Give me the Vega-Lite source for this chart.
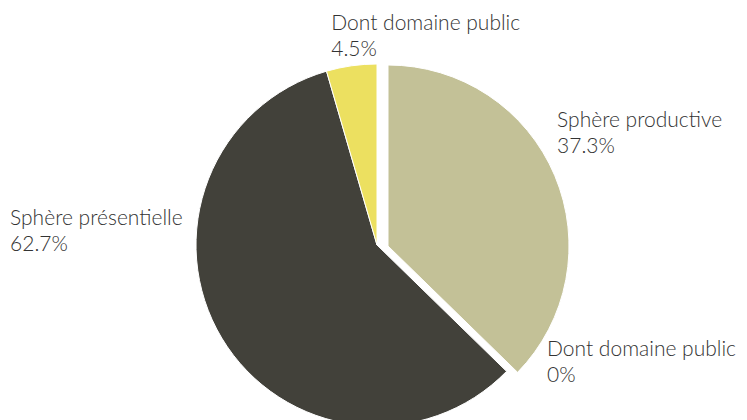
{
  "$schema": "https://vega.github.io/schema/vega-lite/v6.json",
  "width": 740,
  "height": 350,
  "autosize": {"type": "none"},
  "padding": {"left": 7, "right": 0, "top": 70, "bottom": 0},
  "background": "white",
  "view": {"stroke": null},
  "config": {"text": {"font": "Lato", "fontWeight": 300, "fontSize": 21, "fill": "#333333", "lineHeight": 26, "lineBreak": "\n", "align": "left", "baseline": "top"}},
  "data": {
    "values": [
      {"segment": "prod", "order": 1, "value": 37.3, "label": "Sphère productive\n37.3%"},
      {"segment": "dp0", "order": 2, "value": 0, "label": "Dont domaine public\n0%"},
      {"segment": "pres", "order": 3, "value": 58.2, "label": "Sphère présentielle\n62.7%"},
      {"segment": "dp45", "order": 4, "value": 4.5, "label": "Dont domaine public\n4.5%"}
    ]
  },
  "encoding": {
    "theta": {"field": "value", "type": "quantitative", "stack": true, "scale": {"domain": [0, 100]}},
    "order": {"field": "order", "type": "quantitative"},
    "color": {"field": "segment", "type": "nominal", "legend": null,
      "scale": {"domain": ["prod", "dp0", "pres", "dp45"], "range": ["#c3c197", "#c3c197", "#42413a", "#ece060"]}}
  },
  "layer": [
    {
      "mark": {"type": "arc", "outerRadius": 181, "stroke": "white", "strokeWidth": 1},
      "encoding": {"opacity": {"condition": {"test": "datum.segment === 'prod'", "value": 0}, "value": 1}}
    },
    {
      "mark": {"type": "arc", "outerRadius": 181, "stroke": "white", "strokeWidth": 1, "xOffset": 11, "yOffset": 1},
      "encoding": {"opacity": {"condition": {"test": "datum.segment === 'prod'", "value": 1}, "value": 0}}
    },
    {
      "mark": {"type": "text", "radius": 190, "dx": 5, "dy": -61},
      "encoding": {"color": {"value": "#333333"}, "text": {"condition": {"test": "datum.segment === 'prod'", "field": "label"}, "value": ""}}
    },
    {
      "mark": {"type": "text", "radius": 190, "dx": 34, "dy": -39},
      "encoding": {"color": {"value": "#333333"}, "text": {"condition": {"test": "datum.segment === 'dp0'", "field": "label"}, "value": ""}}
    },
    {
      "mark": {"type": "text", "radius": 190, "dx": -204, "dy": -135},
      "encoding": {"color": {"value": "#333333"}, "text": {"condition": {"test": "datum.segment === 'pres'", "field": "label"}, "value": ""}}
    },
    {
      "mark": {"type": "text", "radius": 190, "dx": -19, "dy": -44},
      "encoding": {"color": {"value": "#333333"}, "text": {"condition": {"test": "datum.segment === 'dp45'", "field": "label"}, "value": ""}}
    }
  ]
}
